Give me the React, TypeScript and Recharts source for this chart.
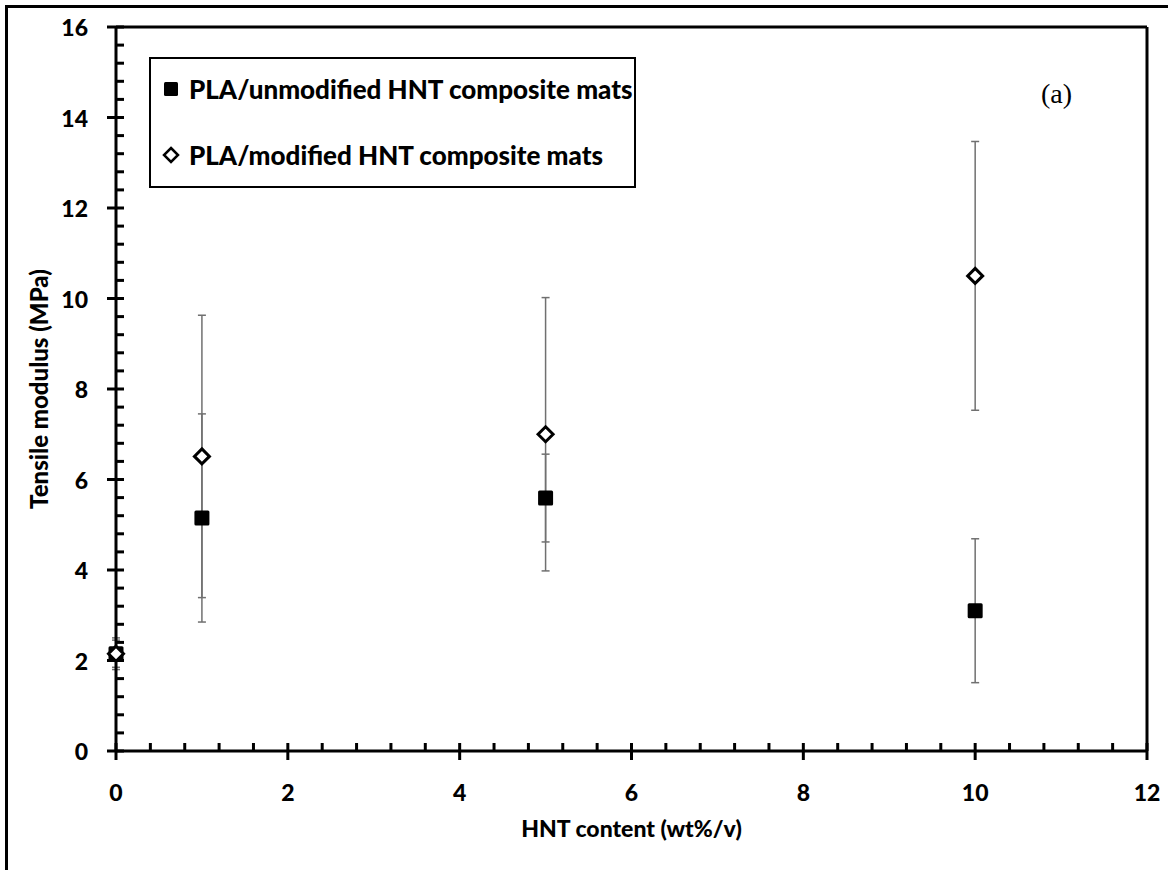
import {
  ScatterChart,
  Scatter,
  XAxis,
  YAxis,
  ErrorBar,
  ReferenceLine,
  Legend
} from 'recharts'

// HNT loading (wt%/v)
const hntContent = [0, 1, 5, 10]

// tensile modulus (MPa) and error bar half-lengths
const unmodifiedModulus = [2.15, 5.15, 5.59, 3.1]
const unmodifiedError = [0.35, 2.3, 0.97, 1.59]
const modifiedModulus = [2.15, 6.51, 7.0, 10.5]
const modifiedError = [0.3, 3.12, 3.02, 2.97]

const seriesNames = ['PLA/unmodified HNT composite mats', 'PLA/modified HNT composite mats']

const xMajorTicks = [0, 2, 4, 6, 8, 10, 12]
const yMajorTicks = [0, 2, 4, 6, 8, 10, 12, 14, 16]

// minor ticks every 0.4 between the majors
const withMinor = (max: number) =>
  Array.from({ length: Math.round(max / 0.4) + 1 }, (_, i) => Math.round(i * 4) / 10)

const xTicks = withMinor(12)
const yTicks = withMinor(16)

const unmodifiedData = hntContent.map((x, i) => ({ x, y: unmodifiedModulus[i], err: unmodifiedError[i] }))
const modifiedData = hntContent.map((x, i) => ({ x, y: modifiedModulus[i], err: modifiedError[i] }))

const FONT = 'Lato, "Open Sans", sans-serif'
const WEIGHT = 900

const XTick = (props: any) => {
  const { x, y, payload } = props
  const major = xMajorTicks.includes(payload.value)
  return (
    <g>
      <line x1={x} x2={x} y1={y - 8} y2={major ? y + 9 : y} stroke="#000" strokeWidth={3} />
      {major && (
        <text x={x} y={y + 50} textAnchor="middle" fontFamily={FONT} fontWeight={WEIGHT} fontSize={23} fill="#000">
          {payload.value}
        </text>
      )}
    </g>
  )
}

const YTick = (props: any) => {
  const { x, y, payload } = props
  const major = yMajorTicks.includes(payload.value)
  return (
    <g>
      <line x1={major ? x - 9 : x} x2={x + 8} y1={y} y2={y} stroke="#000" strokeWidth={3} />
      {major && (
        <text x={x - 28} y={y + 9} textAnchor="end" fontFamily={FONT} fontWeight={WEIGHT} fontSize={23} fill="#000">
          {payload.value}
        </text>
      )}
    </g>
  )
}

const SquareMark = (props: any) => {
  const { cx, cy } = props
  return <rect x={cx - 7.5} y={cy - 7.5} width={15} height={15} rx={1.5} fill="#000" />
}

const DiamondMark = (props: any) => {
  const { cx, cy } = props
  const r = 7.5
  return (
    <path
      d={`M${cx},${cy - r}L${cx + r},${cy}L${cx},${cy + r}L${cx - r},${cy}Z`}
      fill="#fff"
      stroke="#000"
      strokeWidth={3}
    />
  )
}

const LegendBox = () => (
  <div
    style={{
      boxSizing: 'border-box',
      width: '100%',
      height: '100%',
      border: '2.5px solid #000',
      background: '#fff',
      fontFamily: FONT,
      fontWeight: WEIGHT,
      fontSize: 26,
      color: '#000',
      position: 'relative'
    }}
  >
    <div style={{ position: 'absolute', left: 12, top: 14, display: 'flex', alignItems: 'center', whiteSpace: 'nowrap' }}>
      <svg width={16} height={16} style={{ marginRight: 10 }}>
        <rect x={1} y={1} width={14} height={14} rx={1.5} fill="#000" />
      </svg>
      {seriesNames[0]}
    </div>
    <div style={{ position: 'absolute', left: 11, top: 80, display: 'flex', alignItems: 'center', whiteSpace: 'nowrap' }}>
      <svg width={18} height={18} style={{ marginRight: 9 }}>
        <path d="M9,2L16,9L9,16L2,9Z" fill="#fff" stroke="#000" strokeWidth={2.5} />
      </svg>
      {seriesNames[1]}
    </div>
  </div>
)

export default function App() {
  return (
    <div style={{ position: 'absolute', left: 0, top: 0, width: 1168, height: 870, background: '#fff' }}>
      {/* cropped outer frame */}
      <div style={{ position: 'absolute', left: 5, top: 5, width: 1163, height: 3, background: '#000' }} />
      <div style={{ position: 'absolute', left: 5, top: 5, width: 3, height: 865, background: '#000' }} />

      <ScatterChart
        width={1168}
        height={870}
        margin={{ top: 27, right: 21, left: 0, bottom: 0 }}
        style={{ position: 'absolute', left: 0, top: 0 }}
      >
        <XAxis
          type="number"
          dataKey="x"
          domain={[0, 12]}
          ticks={xTicks}
          interval={0}
          height={119}
          tickSize={0}
          tickMargin={0}
          tickLine={false}
          axisLine={{ stroke: '#000', strokeWidth: 3 }}
          tick={<XTick />}
          label={{
            content: (p: any) => (
              <text
                x={p.viewBox.x + p.viewBox.width / 2}
                y={p.viewBox.y + 86}
                textAnchor="middle"
                fontFamily={FONT}
                fontWeight={WEIGHT}
                fontSize={23}
                fill="#000"
              >
                HNT content (wt%/v)
              </text>
            )
          }}
        />
        <YAxis
          type="number"
          dataKey="y"
          domain={[0, 16]}
          ticks={yTicks}
          interval={0}
          width={116}
          tickSize={0}
          tickMargin={0}
          tickLine={false}
          axisLine={{ stroke: '#000', strokeWidth: 3 }}
          tick={<YTick />}
          label={{
            content: (p: any) => {
              const cx = 48
              const cy = p.viewBox.y + p.viewBox.height / 2
              return (
                <text
                  x={cx}
                  y={cy}
                  transform={`rotate(-90 ${cx} ${cy})`}
                  textAnchor="middle"
                  fontFamily={FONT}
                  fontWeight={WEIGHT}
                  fontSize={24}
                  fill="#000"
                >
                  Tensile modulus (MPa)
                </text>
              )
            }
          }}
        />
        <ReferenceLine y={16} stroke="#000" strokeWidth={3} />
        <ReferenceLine x={12} stroke="#000" strokeWidth={3} />
        <Legend
          layout="vertical"
          align="center"
          verticalAlign="middle"
          content={<LegendBox />}
          wrapperStyle={{ left: 149, top: 57, width: 487, height: 131 }}
        />
        <Scatter
          name={seriesNames[0]}
          data={unmodifiedData}
          shape={<SquareMark />}
          isAnimationActive={false}
        >
          <ErrorBar dataKey="err" direction="y" width={4} stroke="#707070" strokeWidth={1.5} isAnimationActive={false} />
        </Scatter>
        <Scatter
          name={seriesNames[1]}
          data={modifiedData}
          shape={<DiamondMark />}
          isAnimationActive={false}
        >
          <ErrorBar dataKey="err" direction="y" width={4} stroke="#707070" strokeWidth={1.5} isAnimationActive={false} />
        </Scatter>
      </ScatterChart>

      <div
        style={{
          position: 'absolute',
          left: 1041,
          top: 80,
          fontFamily: '"Liberation Serif", "Times New Roman", serif',
          fontSize: 28,
          lineHeight: '28px',
          color: '#000'
        }}
      >
        (a)
      </div>
    </div>
  )
}
